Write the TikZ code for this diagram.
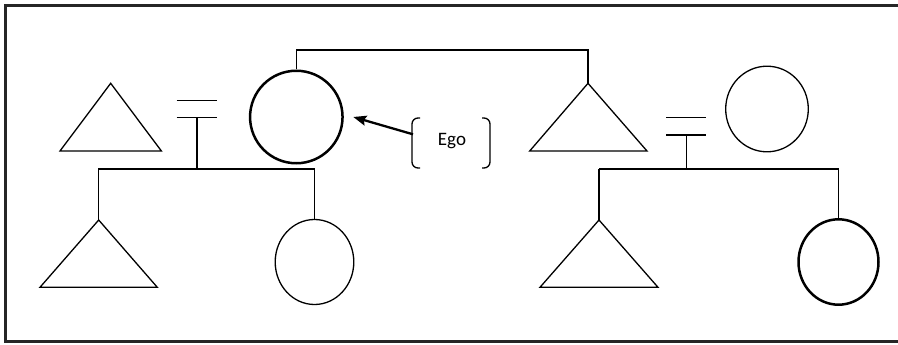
\documentclass[tikz,border=0pt]{standalone}
\usepackage{fontspec}
\newfontfamily\egofont{Carlito}
\usetikzlibrary{shapes.geometric,arrows.meta}
\begin{document}
\begin{tikzpicture}[x=1pt,y=-1pt,
  thin line/.style={line width=1.3pt,black},
  thick line/.style={line width=2.5pt,black},
  person/.style={ellipse,draw,inner sep=0pt},
  female/.style={person,thin line},
  femalebold/.style={person,thick line},
  tri/.style={thin line,line join=miter},
  frameline/.style={line width=2.5pt,black!85},
  bracket/.style={line width=1.3pt,black,rounded corners=6pt},
  egoarrow/.style={line width=2.3pt,-{Stealth[length=13pt,width=10pt,inset=2pt]}}
]
\useasboundingbox (0,0) rectangle (898,345);
\draw[frameline] (898,5.3) -- (5.3,5.3) -- (5.3,341.7) -- (898,341.7);

% circles
\node[femalebold,minimum width=92.5pt,minimum height=92.5pt] (ego) at (296.3,117) {};
\node[female,minimum width=78.6pt,minimum height=85pt] (sis) at (314.5,262) {};
\node[female,minimum width=82.6pt,minimum height=85.6pt] (wife) at (767,109) {};
\node[femalebold,minimum width=80pt,minimum height=85.4pt] (cousin) at (838.5,262) {};

% triangle apexes
\coordinate (husb) at (110.7,83.3);
\coordinate (son) at (98.7,220);
\coordinate (bro) at (588,83.3);
\coordinate (nep) at (599,220);
\draw[tri] (husb) -- ++(-50.7,67.7) -- ++(101.4,0) -- cycle;
\draw[tri] (son) -- ++(-58.7,67.3) -- ++(117.3,0) -- cycle;
\draw[tri] (bro) -- ++(-58.3,67.7) -- ++(117.3,0) -- cycle;
\draw[tri] (nep) -- ++(-59,67.3) -- ++(118,0) -- cycle;

% sibling link Ego - brother
\coordinate (topL) at (296.3,50);
\coordinate (topR) at (588,50);
\draw[thin line] (ego.north) -- (topL) -- (topR) -- (bro);

% marriage signs
\coordinate (m1) at (197,117.3);
\coordinate (m2) at (686.7,135);
\draw[thin line] (176.7,100.3) -- (216.7,100.3) (176.7,117.3) -- (216.7,117.3);
\draw[thin line] (666.3,117.3) -- (706.3,117.3) (666.3,135) -- (706.3,135);
\coordinate (s1) at (197,169);
\coordinate (s2) at (686.7,169.3);
\draw[thin line] (m1) -- (s1);
\draw[thin line] (m2) -- (s2);

% sibling lines of children
\draw[thin line] (son) -- (son |- s1) -- (sis.north |- s1) -- (sis.north);
\draw[thin line] (nep) -- (nep |- s2);
\draw[line width=2pt] (nep |- s2) -- (cousin.north |- s2);
\draw[thin line] (cousin.north |- s2) -- (cousin.north);

% Ego label
\node[font=\egofont\fontsize{19}{22}\selectfont,inner sep=0pt,anchor=base] (egolabel) at (452,146) {Ego};
\draw[bracket] (420,118) -- (412,118) -- (412,168) -- (420,168);
\draw[bracket] (482,118) -- (490,118) -- (490,168) -- (482,168);
\coordinate (brL) at (413,134.3);
\coordinate (arrtip) at (353.3,117);
\draw[egoarrow] (brL) -- (arrtip);
\end{tikzpicture}
\end{document}
